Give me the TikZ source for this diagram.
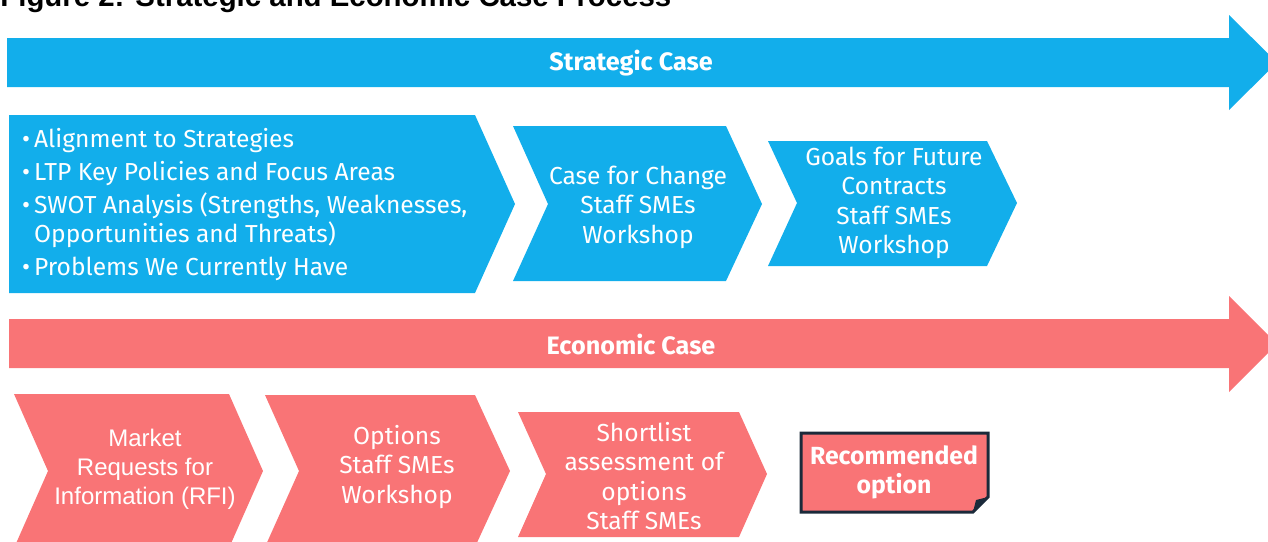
\documentclass[tikz,border=0pt]{standalone}
\usepackage{fontspec}
\setmainfont{Fira Sans}
\newfontfamily\arialfont{Liberation Sans}

\definecolor{caseblue}{RGB}{18,174,235}
\definecolor{casered}{RGB}{249,116,118}
\definecolor{notenavy}{RGB}{27,42,58}

\begin{document}
\begin{tikzpicture}[x=0.5pt,y=-0.5pt,
    stage/.style={text=white,align=center,font=\fontsize{12.3}{14.75}\selectfont},
    band/.style={text=white,font=\bfseries\fontsize{12.6}{14}\selectfont}]
    \useasboundingbox (0,0) rectangle (1268,541);

    % heading (runs off the top edge)
    \node[anchor=base west,inner sep=0pt,font=\arialfont\bfseries\fontsize{14.7}{17}\selectfont] (title) at (0,6) {Figure 2: Strategic and Economic Case Process};

    % strategic case band
    \fill[caseblue] (7,38) -- (1229,38) -- (1229,15) -- (1277,62.5) -- (1229,110) -- (1229,87) -- (7,87) -- cycle;
    \node[band] (strategic) at (631,63) {Strategic Case};

    \fill[caseblue] (9,115) -- (475,115) -- (515,204) -- (475,293) -- (9,293) -- cycle;
    \fill[caseblue] (513,126) -- (726,126) -- (762,204) -- (726,281) -- (513,281) -- (548,204) -- cycle;
    \fill[caseblue] (768,141) -- (987,141) -- (1017,203) -- (987,266) -- (768,266) -- (797,203) -- cycle;

    \node[stage,anchor=west,align=left,font=\fontsize{12.3}{14.5}\selectfont] (inputs) at (15,205) {%
        \textbullet\,Alignment to Strategies\\[2pt]
        \textbullet\,LTP Key Policies and Focus Areas\\[2pt]
        \textbullet\,SWOT Analysis (Strengths, Weaknesses,\\
        \hphantom{\textbullet\,}Opportunities and Threats)\\[2pt]
        \textbullet\,Problems We Currently Have};
    \node[stage] (change) at (638,207) {Case for Change\\Staff SMEs\\Workshop};
    \node[stage] (goals) at (894,203) {Goals for Future\\Contracts\\Staff SMEs\\Workshop};

    % economic case band
    \fill[casered] (9,319) -- (1229,319) -- (1229,296) -- (1277,344) -- (1229,392) -- (1229,368) -- (9,368) -- cycle;
    \node[band] (economic) at (631,344) {Economic Case};

    \fill[casered] (14,394) -- (229,394) -- (263,471) -- (229,548) -- (14,548) -- (48,471) -- cycle;
    \fill[casered] (265,395) -- (475,395) -- (510,471) -- (475,547) -- (265,547) -- (299,471) -- cycle;
    \fill[casered] (518,412) -- (739,412) -- (767,474) -- (739,537) -- (518,537) -- (546,474) -- cycle;

    \node[stage,font=\arialfont\fontsize{12}{14.5}\selectfont] (rfi) at (145,469) {Market\\Requests for\\Information (RFI)};
    \node[stage] (options) at (397,467) {Options\\Staff SMEs\\Workshop};
    \node[stage] (shortlist) at (644,476) {Shortlist\\assessment of\\options\\Staff SMEs};

    % note with a turned-up corner
    \filldraw[casered,draw=notenavy,line width=1.5pt,line join=miter]
        (801,433) -- (988,433) -- (988,497) -- (973,512) -- (801,512) -- cycle;
    \fill[notenavy] (988,497) -- (973,512) -- (976,500) -- cycle;
    \node[text=white,align=center,font=\bfseries\fontsize{12.4}{14.5}\selectfont] (pick) at (894,472) {Recommended\\option};
\end{tikzpicture}
\end{document}
